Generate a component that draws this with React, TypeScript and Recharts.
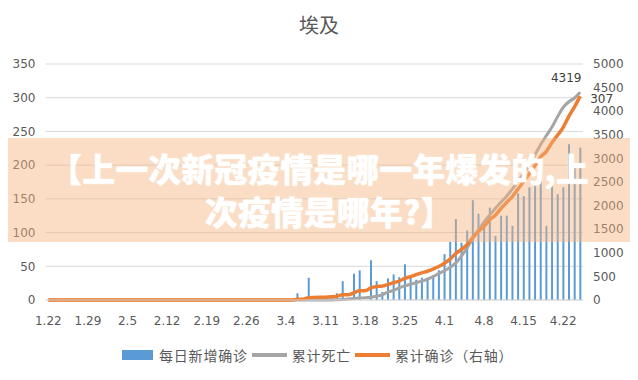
import React from 'react';
import { ComposedChart, Bar, Line, XAxis, YAxis, CartesianGrid, LabelList } from 'recharts';

const dates = [
  '1.22', '1.23', '1.24', '1.25', '1.26', '1.27', '1.28', '1.29', '1.30', '1.31',
  '2.1', '2.2', '2.3', '2.4', '2.5', '2.6', '2.7', '2.8', '2.9', '2.10',
  '2.11', '2.12', '2.13', '2.14', '2.15', '2.16', '2.17', '2.18', '2.19', '2.20',
  '2.21', '2.22', '2.23', '2.24', '2.25', '2.26', '2.27', '2.28', '2.29',
  '3.1', '3.2', '3.3', '3.4', '3.5', '3.6', '3.7', '3.8', '3.9', '3.10',
  '3.11', '3.12', '3.13', '3.14', '3.15', '3.16', '3.17', '3.18', '3.19', '3.20',
  '3.21', '3.22', '3.23', '3.24', '3.25', '3.26', '3.27', '3.28', '3.29', '3.30', '3.31',
  '4.1', '4.2', '4.3', '4.4', '4.5', '4.6', '4.7', '4.8', '4.9', '4.10',
  '4.11', '4.12', '4.13', '4.14', '4.15', '4.16', '4.17', '4.18', '4.19', '4.20',
  '4.21', '4.22', '4.23', '4.24', '4.25',
];

// 每日新增确诊 (left axis)
const dailyNew = [
  0, 0, 0, 0, 0, 0, 0, 0, 0, 0,
  0, 0, 0, 0, 0, 0, 0, 0, 0, 0,
  0, 0, 0, 0, 0, 0, 0, 0, 0, 0,
  0, 0, 0, 0, 0, 0, 0, 0, 0,
  0, 0, 0, 0, 0, 10, 0, 33, 6, 4,
  1, 7, 10, 28, 1, 39, 44, 0, 59, 28,
  12, 32, 38, 34, 53, 35, 30, 33, 33, 37, 44,
  68, 86, 120, 85, 103, 148, 128, 110, 137, 95,
  125, 125, 110, 158, 154, 167, 171, 178, 110, 185,
  157, 167, 231, 199, 226,
];

// 累计死亡 (right axis)
const cumDeaths = [
  0, 0, 0, 0, 0, 0, 0, 0, 0, 0,
  0, 0, 0, 0, 0, 0, 0, 0, 0, 0,
  0, 0, 0, 0, 0, 0, 0, 0, 0, 0,
  0, 0, 0, 0, 0, 0, 0, 0, 0,
  0, 0, 0, 0, 0, 0, 0, 0, 0, 0,
  0, 0, 5, 10, 20, 30, 40, 50, 60, 80,
  110, 165, 205, 255, 300, 335, 365, 400, 440, 495, 560,
  620, 690, 780, 930, 1100, 1300, 1480, 1650, 1800, 1940,
  2070, 2200, 2350, 2510, 2680, 2850, 3070, 3290, 3480, 3660,
  3880, 4080, 4200, 4280, 4400,
];

// 累计确诊 (right axis)
const cumConfirmed = [
  0, 0, 0, 0, 0, 0, 0, 0, 0, 0,
  0, 0, 0, 0, 0, 0, 0, 0, 0, 0,
  0, 0, 0, 0, 0, 0, 0, 0, 0, 0,
  0, 0, 0, 0, 0, 0, 0, 0, 0,
  0, 0, 0, 0, 0, 15, 15, 49, 55, 59,
  60, 67, 80, 109, 110, 150, 196, 196, 256, 285,
  294, 327, 366, 402, 456, 495, 536, 576, 609, 656, 710,
  779, 865, 985, 1070, 1173, 1322, 1450, 1560, 1699, 1794,
  1939, 2065, 2190, 2350, 2505, 2673, 2844, 3032, 3144, 3333,
  3490, 3659, 3891, 4092, 4319,
];

const leftTicks = [0, 50, 100, 150, 200, 250, 300, 350];
const rightTicks = [0, 500, 1000, 1500, 2000, 2500, 3000, 3500, 4000, 4500, 5000];
const endLabelDeaths = '4319';
const endLabelConfirmed = '307';

const data = dates.map((d, i) => ({
  date: d,
  daily: dailyNew[i],
  deaths: cumDeaths[i],
  confirmed: cumConfirmed[i],
}));

const last = data.length - 1;
const axisText = { fill: '#595959', fontSize: 12, fontFamily: '"DejaVu Sans", sans-serif' };
const cjk = '"Noto Sans CJK SC", "Noto Sans", sans-serif';

export default function App() {
  return (
    <div style={{ position: 'relative', width: 638, height: 380, margin: -8, background: '#fff', fontFamily: cjk }}>
      <div style={{ position: 'absolute', top: 10, left: 0, width: 638, textAlign: 'center', fontSize: 20, lineHeight: '30px', color: '#595959' }}>
        埃及
      </div>
      <ComposedChart width={638} height={380} data={data} margin={{ top: 64, right: 0, left: 0, bottom: 50 }}>
        <CartesianGrid yAxisId="left" vertical={false} stroke="#d9d9d9" />
        <XAxis
          dataKey="date"
          interval={6}
          tickLine={false}
          axisLine={{ stroke: '#d9d9d9' }}
          tick={axisText}
          tickMargin={10}
          height={30}
        />
        <YAxis yAxisId="left" domain={[0, 350]} ticks={leftTicks} width={45.5} tickLine={false} axisLine={false} tick={axisText} tickMargin={4} />
        <YAxis yAxisId="right" orientation="right" domain={[0, 5000]} ticks={rightTicks} width={55} tickLine={false} axisLine={false} tick={{ ...axisText, textAnchor: 'start' }} tickMargin={4} />
        <Bar yAxisId="left" dataKey="daily" fill="#5b9bd5" barSize={2} isAnimationActive={false} />
        <Line yAxisId="right" dataKey="deaths" type="monotone" stroke="#a5a5a5" strokeWidth={3} dot={false} isAnimationActive={false}>
          <LabelList
            dataKey="deaths"
            content={(p: any) =>
              p.index === last ? (
                <text x={p.x - 14} y={p.y - 10} textAnchor="middle" fill="#404040" fontSize={12} fontFamily='"DejaVu Sans", sans-serif'>
                  {endLabelDeaths}
                </text>
              ) : null
            }
          />
        </Line>
        <Line yAxisId="right" dataKey="confirmed" type="monotone" stroke="#ed7d31" strokeWidth={3.5} dot={false} isAnimationActive={false}>
          <LabelList
            dataKey="confirmed"
            content={(p: any) =>
              p.index === last ? (
                <text x={p.x + 10} y={p.y + 7} textAnchor="start" fill="#404040" fontSize={12} fontFamily='"DejaVu Sans", sans-serif'>
                  {endLabelConfirmed}
                </text>
              ) : null
            }
          />
        </Line>
      </ComposedChart>

      {/* legend */}
      <div style={{ position: 'absolute', top: 345, left: 122, height: 20, display: 'flex', alignItems: 'center', fontSize: 14, letterSpacing: 0.8, color: '#595959' }}>
        <span style={{ width: 31, height: 10, background: '#5b9bd5', marginRight: 6 }} />
        <span style={{ marginRight: 4 }}>每日新增确诊</span>
        <span style={{ width: 35, height: 4, background: '#a5a5a5', marginRight: 5 }} />
        <span style={{ marginRight: 4 }}>累计死亡</span>
        <span style={{ width: 35, height: 4, background: '#ed7d31', marginRight: 5 }} />
        <span>累计确诊（右轴）</span>
      </div>

      {/* banner overlay */}
      <div style={{ position: 'absolute', top: 138, left: 0, width: 638, height: 104, background: 'rgba(245,180,125,0.45)' }}>
        <div style={{ paddingTop: 9, textAlign: 'center', color: '#fff', fontWeight: 900, fontSize: 33, lineHeight: '43px', whiteSpace: 'nowrap', textShadow: '0 0 2px rgba(255,255,255,0.6)' }}>
          <div>【上一次新冠疫情是哪一年爆发的,上</div>
          <div style={{ marginLeft: 20 }}>次疫情是哪年?】</div>
        </div>
      </div>

      {/* frame */}
      <div style={{ position: 'absolute', left: 0, top: 0, width: 636, height: 377, borderTop: '1px solid #3a3a3a', borderLeft: '1px solid #3a3a3a', borderRight: '1px solid #3a3a3a', borderBottom: '1px solid #d9d9d9', pointerEvents: 'none' }} />
    </div>
  );
}
